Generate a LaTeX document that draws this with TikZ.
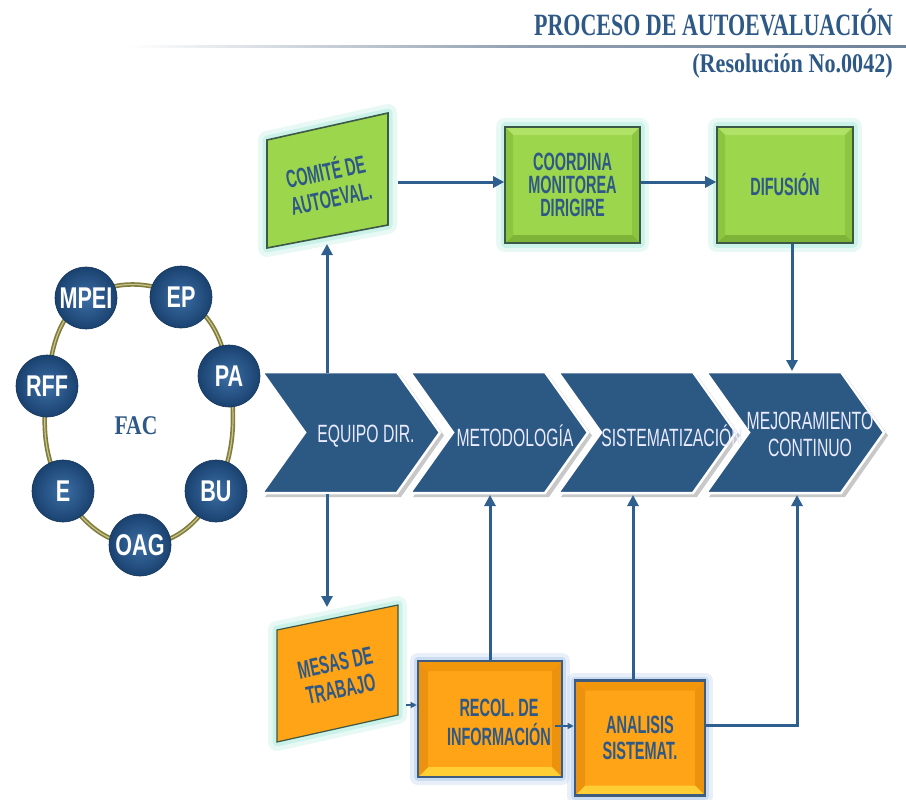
\documentclass[tikz,border=0pt]{standalone}
\usepackage{fontspec}
\setmainfont{Liberation Sans}
\newfontfamily\nsans[FakeStretch=0.63]{Liberation Sans}
\newfontfamily\nsansb[FakeStretch=0.58]{Liberation Sans}
\newfontfamily\ncirc[FakeStretch=0.72]{Liberation Sans}
\newfontfamily\nserif[FakeStretch=0.71]{Liberation Serif}
\newfontfamily\nserifs[FakeStretch=0.82]{Liberation Serif}
\newfontfamily\nseriff[FakeStretch=0.80]{Liberation Serif}
\usetikzlibrary{arrows.meta,calc}
\definecolor{tblue}{RGB}{46,89,135}
\definecolor{arrowc}{RGB}{47,95,143}
\definecolor{chevblue}{RGB}{44,88,132}
\definecolor{chevsh}{RGB}{200,200,200}
\definecolor{circdark}{RGB}{26,66,112}
\definecolor{circlight}{RGB}{60,110,165}
\definecolor{ringc}{RGB}{128,124,60}
\definecolor{ringl}{RGB}{200,196,140}
\definecolor{gfill}{RGB}{156,214,76}
\definecolor{gtop}{RGB}{176,226,104}
\definecolor{gside}{RGB}{140,198,64}
\definecolor{gbot}{RGB}{126,180,56}
\definecolor{gborder}{RGB}{60,88,70}
\definecolor{glowg}{RGB}{190,240,228}
\definecolor{ofill}{RGB}{255,164,22}
\definecolor{otop}{RGB}{242,150,12}
\definecolor{oside}{RGB}{236,146,14}
\definecolor{obot}{RGB}{255,206,52}
\definecolor{oborder}{RGB}{62,92,128}
\definecolor{glowb}{RGB}{190,212,238}
\definecolor{linec}{RGB}{110,130,152}
\newcommand{\mybevel}[5]{%
 \path (path picture bounding box.north west) coordinate (pNW)
       (path picture bounding box.north east) coordinate (pNE)
       (path picture bounding box.south east) coordinate (pSE)
       (path picture bounding box.south west) coordinate (pSW);
 \fill[#2] (pNW) -- (pNE) -- ([shift={(-#1,-#1)}]pNE) -- ([shift={(#1,-#1)}]pNW) -- cycle;
 \fill[#3] (pNE) -- (pSE) -- ([shift={(-#1,#1)}]pSE) -- ([shift={(-#1,-#1)}]pNE) -- cycle;
 \fill[#4] (pSE) -- (pSW) -- ([shift={(#1,#1)}]pSW) -- ([shift={(-#1,#1)}]pSE) -- cycle;
 \fill[#5] (pSW) -- (pNW) -- ([shift={(#1,-#1)}]pNW) -- ([shift={(#1,#1)}]pSW) -- cycle;
}
\newcommand{\mychev}[1]{%
 \begin{scope}[shift={(#1,0)}]
  \fill[chevsh] (3,375) -- (139,375) -- (182,435.5) -- (139,497) -- (3,497) -- (46,435.5) -- cycle;
  \filldraw[fill=chevblue, draw=white, line width=2.5pt, line join=miter]
    (0,372) -- (135,372) -- (178,432.5) -- (135,493) -- (0,493) -- (43,432.5) -- cycle;
 \end{scope}}
\begin{document}
\begin{tikzpicture}[x=1pt,y=-1pt,
  conn/.style={draw=arrowc, line width=3pt, -{Triangle[length=11pt,width=11pt]}},
  thinconn/.style={draw=arrowc, line width=1.1pt, -{Triangle[length=6pt,width=6pt]}},
  glowgreen/.style={preaction={draw=glowg, line width=18pt, opacity=0.35, line join=round},
                    preaction={draw=glowg, line width=9pt, opacity=0.7, line join=round}},
  glowblue/.style={preaction={draw=glowb, line width=16pt, opacity=0.35, line join=round},
                   preaction={draw=glowb, line width=8pt, opacity=0.7, line join=round}},
  gbox/.style={rectangle, fill=gfill, draw=gborder, line width=1.6pt, glowgreen,
    inner sep=0pt, align=center, text=tblue, font=\nsansb\bfseries\fontsize{25}{23}\selectfont,
    path picture={\mybevel{8pt}{gtop}{gside}{gbot}{gside}}},
  obox/.style={rectangle, fill=ofill, draw=oborder, line width=2.6pt, glowblue,
    inner sep=0pt, align=center, text=tblue, font=\nsansb\bfseries\fontsize{25}{26}\selectfont,
    path picture={\mybevel{10pt}{otop}{oside}{obot}{oside}}},
  boxtext/.style={align=center, text=tblue, inner sep=0pt, font=\nsansb\bfseries\fontsize{25}{26}\selectfont},
  chevtext/.style={align=center, text=white!92!blue, inner sep=0pt, font=\nsans\fontsize{25}{27}\selectfont},
  circ/.style={circle, minimum size=62pt, inner sep=0pt, inner color=circlight, outer color=circdark,
    draw=circdark!80!black, line width=0.6pt, text=white, font=\ncirc\bfseries\fontsize{30}{30}\selectfont}
]
\useasboundingbox (0,0) rectangle (906,800);
\fill[white] (0,0) rectangle (906,800);

% title
\node[anchor=east, inner sep=0pt, text=tblue, font=\nserif\bfseries\fontsize{31}{32}\selectfont] (title) at (893,22) {PROCESO DE AUTOEVALUACIÓN};
\shade[left color=white, right color=linec, middle color=linec!75] (128,45.5) rectangle (906,47.8);
\node[anchor=east, inner sep=0pt, text=tblue, font=\nserifs\bfseries\fontsize{27}{28}\selectfont] (subtitle) at (893,66) {(Resolución No.0042)};

% ring of circles
\draw[ringc, line width=4.5pt] plot[smooth cycle, tension=0.75] coordinates {(86,298) (181,297) (229,376) (216,491) (140,545) (63,491) (47,386)};
\draw[ringl, line width=1.2pt] plot[smooth cycle, tension=0.75] coordinates {(86,298) (181,297) (229,376) (216,491) (140,545) (63,491) (47,386)};
\node[text=tblue, inner sep=0pt, font=\nseriff\bfseries\fontsize{27}{27}\selectfont] (fac) at (136,426) {FAC};
\node[circ] (mpei) at (86,298) {MPEI};
\node[circ] (ep) at (181,297) {EP};
\node[circ] (pa) at (229,376) {PA};
\node[circ] (rff) at (47,386) {RFF};
\node[circ] (bu) at (216,491) {BU};
\node[circ] (e) at (63,491) {E};
\node[circ] (oag) at (140,545) {OAG};

% chevrons
\mychev{262}
\node[chevtext] (equipo) at (366,436) {EQUIPO DIR.};
\mychev{410}
\node[chevtext] (metod) at (515,436) {METODOLOGÍA};
\mychev{558}
\node[chevtext] (sistem) at (672,436) {SISTEMATIZACIÓN};
\mychev{706}
\node[chevtext] (mejora) at (810,434) {MEJORAMIENTO\\CONTINUO};

% top green shapes
\filldraw[fill=gfill, draw=gborder, line width=1.6pt, glowgreen] (267,140) -- (388,113) -- (388,225) -- (267,248) -- cycle;
\node[boxtext, rotate=12, font=\nsansb\bfseries\fontsize{25}{27}\selectfont] (comite) at (328,183) {COMITÉ DE\\AUTOEVAL.};
\node[gbox, minimum width=135pt, minimum height=116pt] (coord) at (572.5,185) {COORDINA\\MONITOREA\\DIRIGIRE};
\node[gbox, minimum width=136pt, minimum height=116pt] (dif) at (785,185) {DIFUSIÓN};

% bottom orange shapes
\filldraw[fill=ofill, draw=gborder, line width=1.2pt, glowgreen] (277,630) -- (398,605) -- (398,715) -- (277,742) -- cycle;
\node[boxtext, rotate=12, font=\nsansb\bfseries\fontsize{25}{27}\selectfont] (mesas) at (338,676) {MESAS DE\\TRABAJO};
\node[obox, minimum width=144pt, minimum height=116pt] (recol) at (490,719) {};
\node[boxtext, font=\nsansb\bfseries\fontsize{25}{29}\selectfont] (recolt) at (499,722) {RECOL. DE\\INFORMACIÓN};
\node[obox, minimum width=130pt, minimum height=115pt] (anal) at (640,738) {ANALISIS\\SISTEMAT.};

% coordinates for connector ends
\coordinate (comR) at (398,182);
\coordinate (comB) at (327,244);
\coordinate (ch1t) at (327,373);
\coordinate (ch1b) at (327,494);
\coordinate (mesT) at (327,607);
\coordinate (ch4t) at (792,371);
\coordinate (mesR) at (406,705);
\coordinate (rs) at (555,726);
\coordinate (ch2b) at (490,495);
\coordinate (ch3b) at (633,495);
\coordinate (aR) at (705,725);
\coordinate (ch4b) at (797,495);

% connectors
\draw[conn] (comR) -- (comR -| coord.west);
\draw[conn] ([yshift=3pt]coord.east) -- ([yshift=3pt]dif.west);
\draw[conn] (dif.south -| ch4t) -- (ch4t);
\draw[conn] (ch1t) -- (comB);
\draw[conn] (ch1b) -- (mesT);
\draw[thinconn] (mesR) -- (mesR -| recol.west);
\draw[thinconn] (rs) -- (rs -| anal.west);
\draw[conn] (recol.north -| ch2b) -- (ch2b);
\draw[conn] (anal.north -| ch3b) -- (ch3b);
\draw[conn] (aR) -| (ch4b);
\end{tikzpicture}
\end{document}
